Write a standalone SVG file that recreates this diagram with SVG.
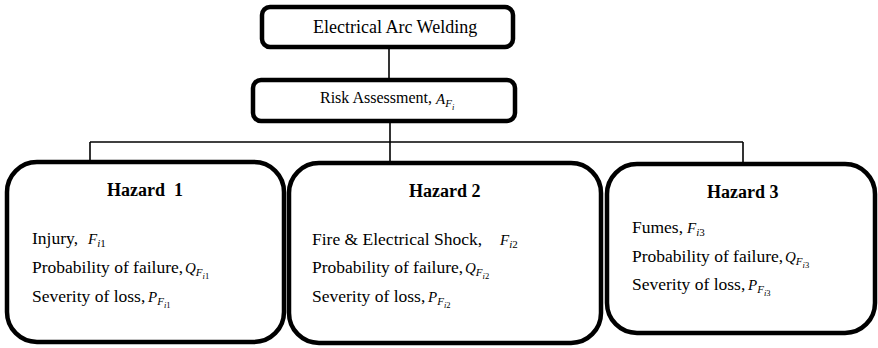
<svg xmlns="http://www.w3.org/2000/svg" width="878" height="348" viewBox="0 0 878 348">
  <style>
    .box { fill: #fff; stroke: #000; stroke-width: 4.5; }
    .wire { fill: none; stroke: #000; stroke-width: 1.6; }
    text { font-family: "Liberation Serif", "Times New Roman", serif; fill: #000; }
    .head { font-size: 18px; }
    .risk { font-size: 16px; }
    .title { font-size: 18px; font-weight: bold; }
    .body { font-size: 17.5px; }
    .m { font-style: italic; font-size: 15px; }
    .s1 { font-style: italic; font-size: 11px; }
    .s1r { font-size: 11px; }
    .s2 { font-style: italic; font-size: 8.5px; }
    .s2r { font-size: 8.5px; }
  </style>

  <g id="connectors">
    <line class="wire" x1="389" y1="47" x2="389" y2="80"/>
    <line class="wire" x1="390" y1="121" x2="390" y2="163"/>
    <line class="wire" x1="90" y1="142" x2="743" y2="142"/>
    <line class="wire" x1="90" y1="142" x2="90" y2="166"/>
    <line class="wire" x1="743" y1="142" x2="743" y2="164"/>
  </g>

  <g id="welding">
    <rect class="box" x="262" y="7" width="251" height="40" rx="8"/>
    <text class="head" x="313" y="33">Electrical Arc Welding</text>
  </g>

  <g id="risk">
    <rect class="box" x="253" y="80" width="262" height="41" rx="8"/>
    <text class="risk" x="320" y="103">Risk Assessment,</text>
    <text x="436" y="104"><tspan class="m">A</tspan><tspan class="s1" dy="3">F</tspan><tspan class="s2" dy="3">i</tspan></text>
  </g>

  <g id="hazard1">
    <rect class="box" x="7" y="162" width="277" height="180" rx="30"/>
    <text class="title" x="107" y="196" xml:space="preserve">Hazard  1</text>
    <text class="body" x="32" y="244">Injury,</text>
    <text x="88" y="244"><tspan class="m">F</tspan><tspan class="s1" dy="3">i</tspan><tspan class="s1r">1</tspan></text>
    <text class="body" x="32" y="273">Probability of failure,</text>
    <text x="185" y="273"><tspan class="m">Q</tspan><tspan class="s1" dy="3">F</tspan><tspan class="s2" dy="3">i</tspan><tspan class="s2r">1</tspan></text>
    <text class="body" x="32" y="302">Severity of loss,</text>
    <text x="148" y="302"><tspan class="m">P</tspan><tspan class="s1" dy="3">F</tspan><tspan class="s2" dy="3">i</tspan><tspan class="s2r">1</tspan></text>
  </g>

  <g id="hazard2">
    <rect class="box" x="289" y="163" width="312" height="180" rx="30"/>
    <text class="title" x="409" y="197">Hazard 2</text>
    <text class="body" x="312" y="245">Fire &amp; Electrical Shock,</text>
    <text x="500" y="245"><tspan class="m">F</tspan><tspan class="s1" dy="3">i</tspan><tspan class="s1r">2</tspan></text>
    <text class="body" x="312" y="273">Probability of failure,</text>
    <text x="465" y="273"><tspan class="m">Q</tspan><tspan class="s1" dy="3">F</tspan><tspan class="s2" dy="3">i</tspan><tspan class="s2r">2</tspan></text>
    <text class="body" x="312" y="302">Severity of loss,</text>
    <text x="428" y="302"><tspan class="m">P</tspan><tspan class="s1" dy="3">F</tspan><tspan class="s2" dy="3">i</tspan><tspan class="s2r">2</tspan></text>
  </g>

  <g id="hazard3">
    <rect class="box" x="607" y="164" width="268" height="169" rx="30"/>
    <text class="title" x="707" y="198">Hazard 3</text>
    <text class="body" x="632" y="233">Fumes,</text>
    <text x="687" y="233"><tspan class="m">F</tspan><tspan class="s1" dy="3">i</tspan><tspan class="s1r">3</tspan></text>
    <text class="body" x="632" y="262">Probability of failure,</text>
    <text x="785" y="262"><tspan class="m">Q</tspan><tspan class="s1" dy="3">F</tspan><tspan class="s2" dy="3">i</tspan><tspan class="s2r">3</tspan></text>
    <text class="body" x="632" y="290">Severity of loss,</text>
    <text x="748" y="290"><tspan class="m">P</tspan><tspan class="s1" dy="3">F</tspan><tspan class="s2" dy="3">i</tspan><tspan class="s2r">3</tspan></text>
  </g>
</svg>
